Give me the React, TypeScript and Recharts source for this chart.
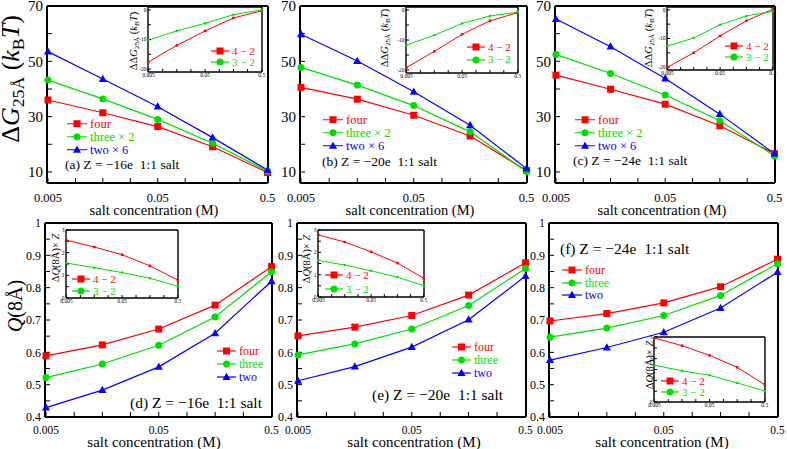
import React from 'react';
import { LineChart, Line, XAxis, YAxis } from 'recharts';

// salt concentrations (M), shared by every panel
const conc = [0.005, 0.0158, 0.05, 0.158, 0.5];

// (a)-(c) ΔG at 25 Å, in kBT
const dgFourA = [36, 31.4, 26.4, 19.1, 9.8];
const dgThreeA = [43.2, 36.4, 29, 20.4, 10.3];
const dgTwoA = [53.5, 43.6, 33.6, 22.4, 10.7];
const dgFourB = [40.6, 36.3, 30.5, 23, 10.5];
const dgThreeB = [47.8, 41.4, 34, 24.5, 10.2];
const dgTwoB = [59.8, 50.1, 39, 26.9, 11.2];
const dgFourC = [45, 39.9, 34.5, 26.7, 16.6];
const dgThreeC = [52.5, 45.6, 37.8, 28.5, 15.8];
const dgTwoC = [65.3, 55.3, 43.8, 30.9, 16.6];

// insets of (a)-(c): ΔΔG
const ddg42A = [-17.6, -12, -7.1, -2.7, -0.3];
const ddg32A = [-10.2, -7.1, -4.5, -1.6, 0];
const ddg42B = [-19.2, -13.8, -8.1, -3.6, -0.9];
const ddg32B = [-11.7, -8.4, -4.5, -2, -0.7];
const ddg42C = [-20, -15, -9.1, -3.8, 0.2];
const ddg32C = [-12.6, -9.8, -5.2, -2.1, -0.6];

// (d)-(f) Q(8 Å)
const qFourD = [0.589, 0.623, 0.672, 0.746, 0.865];
const qThreeD = [0.522, 0.564, 0.622, 0.709, 0.849];
const qTwoD = [0.429, 0.483, 0.555, 0.659, 0.82];
const qFourE = [0.651, 0.678, 0.714, 0.777, 0.877];
const qThreeE = [0.592, 0.626, 0.672, 0.745, 0.859];
const qTwoE = [0.512, 0.556, 0.616, 0.701, 0.836];
const qFourF = [0.697, 0.72, 0.753, 0.803, 0.888];
const qThreeF = [0.647, 0.675, 0.714, 0.776, 0.874];
const qTwoF = [0.576, 0.615, 0.662, 0.737, 0.848];

// insets of (d)-(f): ΔQ × Z
const dq42D = [2.55, 2.25, 1.91, 1.42, 0.79];
const dq32D = [1.54, 1.34, 1.12, 0.87, 0.52];
const dq42E = [2.78, 2.46, 2.02, 1.52, 0.84];
const dq32E = [1.64, 1.43, 1.17, 0.89, 0.51];
const dq42F = [2.95, 2.6, 2.15, 1.6, 0.8];
const dq32F = [1.7, 1.44, 1.23, 0.88, 0.51];

// ticks
const xTicks = [0.005, 0.0089, 0.0158, 0.0281, 0.05, 0.089, 0.158, 0.281, 0.5];
const xLabels = [0.005, 0.05, 0.5];
const dgTicks = [10, 20, 30, 40, 50, 60, 70];
const dgLabels = [10, 30, 50, 70];
const qTicks = [0.4, 0.45, 0.5, 0.55, 0.6, 0.65, 0.7, 0.75, 0.8, 0.85, 0.9, 0.95, 1];
const qLabels = [0.4, 0.5, 0.6, 0.7, 0.8, 0.9, 1];
const ddgTicks = [-20, -15, -10, -5, 0];
const ddgLabels = [-20, -10, 0];
const dqTicks = [0, 0.5, 1, 1.5, 2, 2.5, 3];
const dqLabels = [0, 1, 2, 3];

const xDomain = [0.0049, 0.505];
const RED = '#ff0000';
const GREEN = '#00dd00';
const BLUE = '#0000ff';
const FONT = "'Liberation Serif', 'Times New Roman', serif";

type Shape = 'square' | 'circle' | 'triangle';
type Series = { key: string; label: string; values: number[]; color: string; shape: Shape };
type Box = { x: number; y: number; w: number; h: number };
type Margin = { l: number; r: number; t: number; b: number };

const mainSeries = (four: number[], three: number[], two: number[], scaled: boolean): Series[] => [
  { key: 'four', label: 'four', values: four, color: RED, shape: 'square' },
  { key: 'three', label: scaled ? 'three × 2' : 'three', values: three, color: GREEN, shape: 'circle' },
  { key: 'two', label: scaled ? 'two × 6' : 'two', values: two, color: BLUE, shape: 'triangle' },
];

const insetSeries = (d42: number[], d32: number[]): Series[] => [
  { key: 'd42', label: '4 − 2', values: d42, color: RED, shape: 'square' },
  { key: 'd32', label: '3 − 2', values: d32, color: GREEN, shape: 'circle' },
];

function Mark({ cx, cy, color, shape, size }: { cx: number; cy: number; color: string; shape: Shape; size: number }) {
  if (cx == null || cy == null) return null;
  if (shape === 'square') return <rect x={cx - size / 2} y={cy - size / 2} width={size} height={size} fill={color} />;
  if (shape === 'circle') return <circle cx={cx} cy={cy} r={size / 2} fill={color} />;
  return (
    <polygon
      points={`${cx},${cy - size * 0.62} ${cx - size * 0.58},${cy + size * 0.42} ${cx + size * 0.58},${cy + size * 0.42}`}
      fill={color}
    />
  );
}

function Plot(props: {
  box: Box;
  m: Margin;
  series: Series[];
  yDomain: number[];
  yTicks: number[];
  yLabels: number[];
  xFont: number;
  yFont: number;
  tick: number;
  border: number;
  marker: number;
  lineW: number;
  xGap: number;
  yGap: number;
}) {
  const { box, m, series, yDomain, yTicks, yLabels, xFont, yFont, tick, border, marker, lineW, xGap, yGap } = props;
  const rows = conc.map((c, i) => {
    const r: Record<string, number> = { c };
    series.forEach((s) => {
      r[s.key] = s.values[i];
    });
    return r;
  });
  const axisLine = { stroke: '#000', strokeWidth: border };
  const tickLine = { stroke: '#000', strokeWidth: 1 };
  const fmtX = (v: number) => (xLabels.includes(v) ? String(v) : '');
  const fmtY = (v: number) => (yLabels.includes(v) ? String(v) : '');
  return (
    <div style={{ position: 'absolute', left: box.x - m.l - 1, top: box.y - m.t - 1 }}>
      <LineChart
        width={box.w + m.l + m.r + 2}
        height={box.h + m.t + m.b + 2}
        data={rows}
        margin={{ left: m.l, right: m.r, top: m.t, bottom: m.b }}
      >
        <XAxis
          xAxisId="b"
          dataKey="c"
          type="number"
          scale="log"
          domain={xDomain}
          ticks={xTicks}
          interval={0}
          height={1}
          tickSize={-tick}
          tickMargin={tick + xGap}
          tickFormatter={fmtX}
          axisLine={axisLine}
          tickLine={tickLine}
          tick={{ fontSize: xFont, fill: '#000', fontFamily: FONT }}
        />
        <XAxis
          xAxisId="t"
          orientation="top"
          dataKey="c"
          type="number"
          scale="log"
          domain={xDomain}
          allowDataOverflow
          ticks={xTicks}
          interval={0}
          height={1}
          tickSize={-tick}
          tick={false}
          axisLine={axisLine}
          tickLine={tickLine}
        />
        <YAxis
          yAxisId="l"
          type="number"
          domain={yDomain}
          ticks={yTicks}
          interval={0}
          width={1}
          tickSize={-tick}
          tickMargin={tick + yGap}
          tickFormatter={fmtY}
          axisLine={axisLine}
          tickLine={tickLine}
          tick={{ fontSize: yFont, fill: '#000', fontFamily: FONT }}
        />
        <YAxis
          yAxisId="r"
          orientation="right"
          type="number"
          domain={yDomain}
          allowDataOverflow
          ticks={yTicks}
          interval={0}
          width={1}
          tickSize={-tick}
          tick={false}
          axisLine={axisLine}
          tickLine={tickLine}
        />
        {series.map((s) => (
          <Line
            key={s.key}
            xAxisId="b"
            yAxisId="l"
            dataKey={s.key}
            stroke={s.color}
            strokeWidth={lineW}
            isAnimationActive={false}
            activeDot={false}
            dot={(p: any) => (
              <Mark key={`${s.key}-${p.index}`} cx={p.cx} cy={p.cy} color={s.color} shape={s.shape} size={marker} />
            )}
          />
        ))}
      </LineChart>
    </div>
  );
}

function Label(props: {
  x: number;
  y: number;
  size: number;
  color?: string;
  center?: boolean;
  rotate?: boolean;
  children: React.ReactNode;
}) {
  const { x, y, size, color = '#000', center, rotate, children } = props;
  const tx = center || rotate ? '-50%' : '0';
  return (
    <div
      style={{
        position: 'absolute',
        left: x,
        top: y,
        transform: `translate(${tx}, -50%)${rotate ? ' rotate(-90deg)' : ''}`,
        fontFamily: FONT,
        fontSize: size,
        color,
        whiteSpace: 'pre',
        lineHeight: 1,
      }}
    >
      {children}
    </div>
  );
}

function Key(props: { x: number; y: number; gap: number; series: Series[]; size: number; lineLen: number; marker: number }) {
  const { x, y, gap, series, size, lineLen, marker } = props;
  return (
    <>
      {series.map((s, i) => (
        <div
          key={s.key}
          style={{
            position: 'absolute',
            left: x,
            top: y + i * gap,
            transform: 'translateY(-50%)',
            display: 'flex',
            alignItems: 'center',
            whiteSpace: 'nowrap',
            fontFamily: FONT,
            fontSize: size,
            color: s.color,
            lineHeight: 1,
          }}
        >
          <svg width={lineLen} height={12}>
            <line x1={0} y1={6} x2={lineLen} y2={6} stroke={s.color} strokeWidth={1.2} />
            <Mark cx={lineLen / 2} cy={6} color={s.color} shape={s.shape} size={marker} />
          </svg>
          <span style={{ marginLeft: 3 }}>{s.label}</span>
        </div>
      ))}
    </>
  );
}

const sub = { fontSize: '0.68em', verticalAlign: '-0.3em' } as const;

function TopMain({ box, series }: { box: Box; series: Series[] }) {
  return (
    <Plot
      box={box}
      m={{ l: 30, r: 10, t: 10, b: 24 }}
      series={series}
      yDomain={[6, 70]}
      yTicks={dgTicks}
      yLabels={dgLabels}
      xFont={12.5}
      yFont={15}
      tick={5}
      border={2}
      marker={7}
      lineW={1.2}
      xGap={10}
      yGap={4}
    />
  );
}

function BottomMain({ box, series }: { box: Box; series: Series[] }) {
  return (
    <Plot
      box={box}
      m={{ l: 30, r: 10, t: 10, b: 22 }}
      series={series}
      yDomain={[0.4, 1]}
      yTicks={qTicks}
      yLabels={qLabels}
      xFont={11.5}
      yFont={12}
      tick={5}
      border={2}
      marker={7}
      lineW={1.2}
      xGap={9}
      yGap={4}
    />
  );
}

function Inset({ box, series, q }: { box: Box; series: Series[]; q: boolean }) {
  return (
    <>
      <div style={{ position: 'absolute', left: box.x, top: box.y, width: box.w, height: box.h, background: '#fff' }} />
      <Plot
        box={box}
        m={{ l: 10, r: 6, t: 5, b: 8 }}
        series={series}
        yDomain={q ? [0, 3] : [-21, 1]}
        yTicks={q ? dqTicks : ddgTicks}
        yLabels={q ? dqLabels : ddgLabels}
        xFont={5.5}
        yFont={5.5}
        tick={3}
        border={1.4}
        marker={2.5}
        lineW={1}
        xGap={1}
        yGap={1.5}
      />
    </>
  );
}

const ddgTitle = (
  <span>
    ΔΔ<i>G</i>
    <span style={sub}>25Å</span> (<i>k</i>
    <span style={sub}>B</span>
    <i>T</i>)
  </span>
);
const dqTitle = (
  <span>
    Δ<i>Q</i>(8Å)× <i>Z</i>
  </span>
);

export default function App() {
  const sA = mainSeries(dgFourA, dgThreeA, dgTwoA, true);
  const sB = mainSeries(dgFourB, dgThreeB, dgTwoB, true);
  const sC = mainSeries(dgFourC, dgThreeC, dgTwoC, true);
  const sD = mainSeries(qFourD, qThreeD, qTwoD, false);
  const sE = mainSeries(qFourE, qThreeE, qTwoE, false);
  const sF = mainSeries(qFourF, qThreeF, qTwoF, false);
  const iA = insetSeries(ddg42A, ddg32A);
  const iB = insetSeries(ddg42B, ddg32B);
  const iC = insetSeries(ddg42C, ddg32C);
  const iD = insetSeries(dq42D, dq32D);
  const iE = insetSeries(dq42E, dq32E);
  const iF = insetSeries(dq42F, dq32F);

  return (
    <div style={{ position: 'absolute', left: 0, top: 0, width: 787, height: 449, background: '#fff', overflow: 'hidden' }}>
      {/* top row: ΔG */}
      <TopMain box={{ x: 47, y: 6, w: 221, h: 177 }} series={sA} />
      <TopMain box={{ x: 300, y: 6, w: 227, h: 177 }} series={sB} />
      <TopMain box={{ x: 555, y: 6, w: 220, h: 177 }} series={sC} />
      <Inset box={{ x: 148, y: 7, w: 114, h: 65 }} series={iA} q={false} />
      <Inset box={{ x: 406, y: 7, w: 112, h: 66 }} series={iB} q={false} />
      <Inset box={{ x: 667, y: 7, w: 106, h: 63 }} series={iC} q={false} />

      {/* bottom row: Q */}
      <BottomMain box={{ x: 45, y: 223, w: 227, h: 194 }} series={sD} />
      <BottomMain box={{ x: 297, y: 223, w: 229, h: 194 }} series={sE} />
      <BottomMain box={{ x: 549, y: 223, w: 229, h: 194 }} series={sF} />
      <Inset box={{ x: 66, y: 230, w: 112, h: 68 }} series={iD} q />
      <Inset box={{ x: 318, y: 230, w: 106, h: 67 }} series={iE} q />
      <Inset box={{ x: 654, y: 337, w: 111, h: 65 }} series={iF} q />

      {/* legends */}
      <Key x={67} y={124} gap={13} series={sA} size={12.5} lineLen={20} marker={7} />
      <Key x={323} y={119.5} gap={13} series={sB} size={12.5} lineLen={20} marker={7} />
      <Key x={575} y={119.5} gap={13} series={sC} size={12.5} lineLen={20} marker={7} />
      <Key x={217} y={351} gap={13} series={sD} size={12} lineLen={19} marker={7} />
      <Key x={452} y={347} gap={12.8} series={sE} size={12} lineLen={19} marker={7} />
      <Key x={562} y={270} gap={12.7} series={sF} size={12} lineLen={20} marker={7} />
      <Key x={211} y={51} gap={11} series={iA} size={11} lineLen={18} marker={7} />
      <Key x={467} y={47} gap={12.5} series={iB} size={11} lineLen={18} marker={7} />
      <Key x={725} y={46} gap={11} series={iC} size={11} lineLen={18} marker={7} />
      <Key x={72} y={279} gap={12} series={iD} size={11} lineLen={18} marker={7} />
      <Key x={325} y={275} gap={14} series={iE} size={11} lineLen={18} marker={7} />
      <Key x={661} y={381} gap={11} series={iF} size={11} lineLen={18} marker={7} />

      {/* panel annotations */}
      <Label x={65} y={165} size={13.5}>(a) Z = −16e  1:1 salt</Label>
      <Label x={322} y={162} size={13.5}>(b) Z = −20e  1:1 salt</Label>
      <Label x={573} y={161} size={13.5}>(c) Z = −24e  1:1 salt</Label>
      <Label x={130} y={403} size={15.5}>(d) Z = −16e  1:1 salt</Label>
      <Label x={372} y={395} size={15.5}>(e) Z = −20e  1:1 salt</Label>
      <Label x={560} y={249} size={15.5}>(f) Z = −24e  1:1 salt</Label>

      {/* x-axis titles */}
      <Label x={154} y={210} size={14.5} center>salt concentration (M)</Label>
      <Label x={410} y={210} size={14.5} center>salt concentration (M)</Label>
      <Label x={662} y={210} size={14.5} center>salt concentration (M)</Label>
      <Label x={154} y={442} size={15} center>salt concentration (M)</Label>
      <Label x={414} y={442} size={15} center>salt concentration (M)</Label>
      <Label x={662} y={442} size={15} center>salt concentration (M)</Label>

      {/* y-axis titles */}
      <Label x={13} y={79} size={26} rotate>
        <span>
          Δ<i>G</i>
          <span style={sub}>25Å</span> (<i>k</i>
          <span style={sub}>B</span>
          <i>T</i>)
        </span>
      </Label>
      <Label x={15} y={306} size={20} rotate>
        <span>
          <i>Q</i>(8Å)
        </span>
      </Label>
      <Label x={135} y={41} size={10.5} rotate>{ddgTitle}</Label>
      <Label x={386} y={38} size={10.5} rotate>{ddgTitle}</Label>
      <Label x={650} y={38} size={10.5} rotate>{ddgTitle}</Label>
      <Label x={56} y={258} size={10.5} rotate>{dqTitle}</Label>
      <Label x={307} y={259} size={10.5} rotate>{dqTitle}</Label>
      <Label x={650} y={365} size={10.5} rotate>{dqTitle}</Label>
    </div>
  );
}
